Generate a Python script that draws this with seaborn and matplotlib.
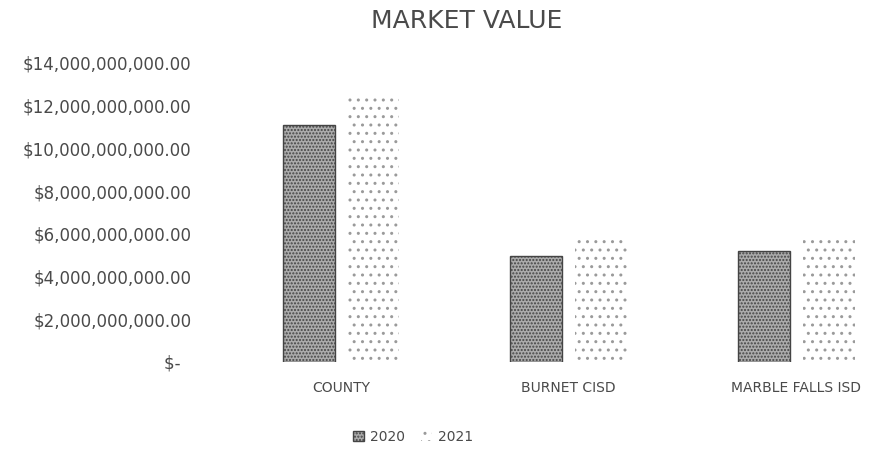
import numpy as np
import pandas as pd
import matplotlib
matplotlib.use('Agg')
import matplotlib.pyplot as plt
import seaborn as sns
from matplotlib.ticker import FuncFormatter

# 数据 (从图中读取, 单位: 美元)
categories = ['COUNTY', 'BURNET CISD', 'MARBLE FALLS ISD']
years = ['2020', '2021']
values_2020 = [11.1e9, 4.95e9, 5.2e9]
values_2021 = [12.55e9, 5.85e9, 5.9e9]
y_ticks = [0, 2e9, 4e9, 6e9, 8e9, 10e9, 12e9, 14e9]

df = pd.DataFrame({
    'entity': categories * 2,
    'year': [years[0]] * 3 + [years[1]] * 3,
    'value': values_2020 + values_2021,
})

sns.set_theme(style='white')
plt.rcParams['font.family'] = ['DejaVu Sans']
text_color = '#4a4a4a'

fig = plt.figure(figsize=(8.85, 4.49), dpi=100)
ax = fig.add_axes([0.243, 0.194, 0.757, 0.666])

sns.barplot(data=df, x='entity', y='value', hue='year', order=categories,
            hue_order=years, width=0.57, gap=0.2, ax=ax, legend=False)

# 2020: 深色颗粒, 2021: 稀疏点
for patch in ax.containers[0]:
    patch.set_facecolor('#ababab')
    patch.set_edgecolor('#444444')
    patch.set_hatch('.....')
    patch.set_linewidth(1.0)
for patch in ax.containers[1]:
    patch.set_facecolor('white')
    patch.set_edgecolor('#9a9a9a')
    patch.set_hatch('..')
    patch.set_linewidth(0)

def money(v, pos):
    if v == 0:
        return '$-  '
    return f'${v:,.2f}'

ax.set_ylim(0, 14e9)
ax.set_yticks(y_ticks)
ax.yaxis.set_major_formatter(FuncFormatter(money))
ax.set_xlim(-0.554, 2.39)
ax.set_xlabel('')
ax.set_ylabel('')
ax.tick_params(axis='y', length=0, pad=17, labelsize=12, labelcolor=text_color)
ax.tick_params(axis='x', length=0, pad=14, labelsize=10, labelcolor=text_color)
sns.despine(ax=ax, left=True, bottom=True)
ax.grid(False)

fig.text(467 / 885, 1 - 21 / 449, 'MARKET VALUE', ha='center', va='center',
         fontsize=18, color=text_color)

handles = [ax.containers[0][0], ax.containers[1][0]]
fig.legend(handles, years, loc='center', bbox_to_anchor=(413 / 885, 1 - 437 / 449),
           ncol=2, frameon=False, handlelength=0.8, handleheight=0.8,
           columnspacing=1.2, handletextpad=0.4, fontsize=10, labelcolor=text_color)

fig.savefig('out.png', dpi=100)
